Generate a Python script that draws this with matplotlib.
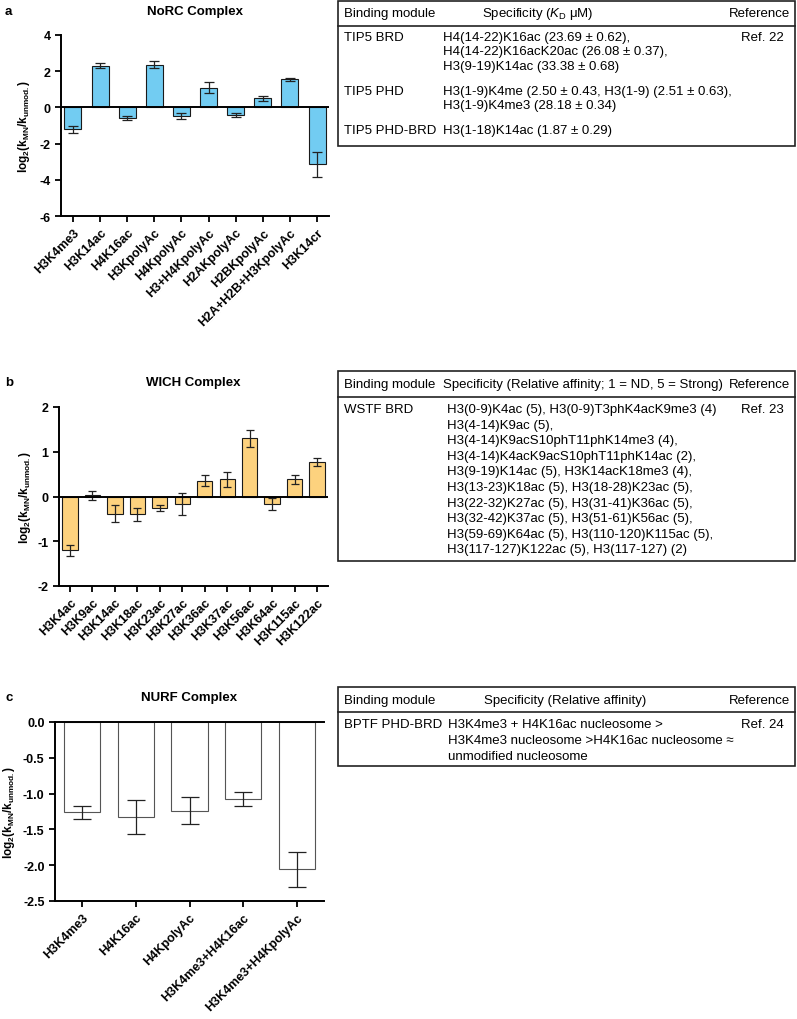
import matplotlib
matplotlib.use('Agg')
import matplotlib.pyplot as plt
from matplotlib.patches import Rectangle

plt.rcParams['font.family'] = ['Liberation Sans', 'DejaVu Sans']
plt.rcParams['mathtext.fontset'] = 'custom'
plt.rcParams['mathtext.rm'] = 'Liberation Sans'
plt.rcParams['mathtext.it'] = 'Liberation Sans:italic'
plt.rcParams['mathtext.bf'] = 'Liberation Sans:bold'

# panel a - NoRC
labels_a = ['H3K4me3', 'H3K14ac', 'H4K16ac', 'H3KpolyAc', 'H4KpolyAc', 'H3+H4KpolyAc',
            'H2AKpolyAc', 'H2BKpolyAc', 'H2A+H2B+H3KpolyAc', 'H3K14cr']
vals_a = [-1.22, 2.3, -0.6, 2.35, -0.48, 1.08, -0.42, 0.5, 1.55, -3.15]
err_a = [0.22, 0.15, 0.12, 0.2, 0.15, 0.3, 0.12, 0.12, 0.1, 0.7]

# panel b - WICH
labels_b = ['H3K4ac', 'H3K9ac', 'H3K14ac', 'H3K18ac', 'H3K23ac', 'H3K27ac', 'H3K36ac',
            'H3K37ac', 'H3K56ac', 'H3K64ac', 'H3K115ac', 'H3K122ac']
vals_b = [-1.2, 0.03, -0.38, -0.4, -0.25, -0.17, 0.35, 0.38, 1.3, -0.17, 0.38, 0.77]
err_b = [0.12, 0.1, 0.2, 0.15, 0.07, 0.25, 0.12, 0.16, 0.19, 0.13, 0.09, 0.08]

# panel c - NURF
labels_c = ['H3K4me3', 'H4K16ac', 'H4KpolyAc', 'H3K4me3+H4K16ac', 'H3K4me3+H4KpolyAc']
vals_c = [-1.26, -1.33, -1.24, -1.08, -2.06]
err_c = [0.09, 0.24, 0.19, 0.1, 0.245]

# tables
head_a = ['Binding module', r'Specificity ($\mathit{K}_{\mathrm{D}}$ μM)', 'Reference']
mod_a = ['TIP5 BRD', 'TIP5 PHD', 'TIP5 PHD-BRD']
spec_a = [['H4(14-22)K16ac (23.69 ± 0.62),', 'H4(14-22)K16acK20ac (26.08 ± 0.37),',
           'H3(9-19)K14ac (33.38 ± 0.68)'],
          ['H3(1-9)K4me (2.50 ± 0.43, H3(1-9) (2.51 ± 0.63),', 'H3(1-9)K4me3 (28.18 ± 0.34)'],
          ['H3(1-18)K14ac (1.87 ± 0.29)']]
ref_a = ['Ref. 22', '', '']

head_b = ['Binding module', 'Specificity (Relative affinity; 1 = ND, 5 = Strong)', 'Reference']
mod_b = ['WSTF BRD']
spec_b = [['H3(0-9)K4ac (5), H3(0-9)T3phK4acK9me3 (4)', 'H3(4-14)K9ac (5),',
           'H3(4-14)K9acS10phT11phK14me3 (4),', 'H3(4-14)K4acK9acS10phT11phK14ac (2),',
           'H3(9-19)K14ac (5), H3K14acK18me3 (4),', 'H3(13-23)K18ac (5), H3(18-28)K23ac (5),',
           'H3(22-32)K27ac (5), H3(31-41)K36ac (5),', 'H3(32-42)K37ac (5), H3(51-61)K56ac (5),',
           'H3(59-69)K64ac (5), H3(110-120)K115ac (5),', 'H3(117-127)K122ac (5), H3(117-127) (2)']]
ref_b = ['Ref. 23']

head_c = ['Binding module', 'Specificity (Relative affinity)', 'Reference']
mod_c = ['BPTF PHD-BRD']
spec_c = [['H3K4me3 + H4K16ac nucleosome >', 'H3K4me3 nucleosome >H4K16ac nucleosome ≈',
           'unmodified nucleosome']]
ref_c = ['Ref. 24']

W, H = 797, 1020
fig = plt.figure(figsize=(W / 100, H / 100), dpi=100)


def rect(l, t, r, b):
    return [l / W, 1 - b / H, (r - l) / W, (b - t) / H]


ylab = r'$\mathbf{log_2(k_{MN}/k_{unmod.})}$'


def bar_panel(pos, labels, vals, errs, color, edge, ylim, yticks, xpad, width, cap, fmt):
    ax = fig.add_axes(rect(*pos))
    x = range(len(vals))
    ax.bar(x, vals, width=width, color=color, edgecolor=edge, linewidth=0.8, zorder=2)
    ax.errorbar(x, vals, yerr=errs, fmt='none', ecolor='#222222', elinewidth=0.9,
                capsize=cap, capthick=0.9, zorder=3)
    ax.set_xlim(-xpad, len(vals) - 1 + xpad)
    ax.set_ylim(*ylim)
    ax.set_yticks(yticks)
    ax.set_yticklabels([fmt.format(v) for v in yticks])
    ax.set_xticks(list(x))
    ax.set_xticklabels(labels, rotation=45, ha='right', rotation_mode='anchor')
    for s in ['top', 'right']:
        ax.spines[s].set_visible(False)
    for s in ['left', 'bottom']:
        ax.spines[s].set_linewidth(1.4)
    ax.tick_params(width=1.3, length=4, labelsize=9)
    for t in ax.get_xticklabels() + ax.get_yticklabels():
        t.set_fontweight('bold')
    ax.set_ylabel(ylab, fontsize=8.5)
    return ax


axa = bar_panel((61, 36, 329, 217), labels_a, vals_a, err_a, '#72CCF2', '#1a1a1a',
                (-6, 4), [-6, -4, -2, 0, 2, 4], 0.44, 0.63, 3.6, '{:g}')
axa.axhline(0, color='black', lw=1.4, zorder=4)
axa.yaxis.set_label_coords(-0.108, 0.5)

axb = bar_panel((59, 408, 328, 587), labels_b, vals_b, err_b, '#FDD27E', '#1a1a1a',
                (-2, 2), [-2, -1, 0, 1, 2], 0.49, 0.68, 2.9, '{:g}')
axb.axhline(0, color='black', lw=1.4, zorder=4)
axb.yaxis.set_label_coords(-0.097, 0.5)

axc = bar_panel((55, 723, 324, 902), labels_c, vals_c, err_c, 'white', '#555555',
                (-2.5, 0), [-2.5, -2.0, -1.5, -1.0, -0.5, 0.0], 0.5, 0.67, 6.8, '{:.1f}')
axc.spines['top'].set_visible(True)
axc.spines['top'].set_linewidth(1.4)
axc.yaxis.set_label_coords(-0.142, 0.5)

# panel letters and titles
for lab, ttl, y, xt in [('a', 'NoRC Complex', 12, 195), ('b', 'WICH Complex', 383, 193),
                        ('c', 'NURF Complex', 698, 189)]:
    fig.text(5 / W, 1 - y / H, lab, fontsize=9.5, fontweight='bold', va='center', ha='left')
    fig.text(xt / W, 1 - y / H, ttl, fontsize=9.5, fontweight='bold', va='center', ha='center')

# tables in pixel space
ov = fig.add_axes([0, 0, 1, 1])
ov.set_xlim(0, W)
ov.set_ylim(H, 0)
ov.axis('off')


def table(box, header_y, line_y, head, spec_center, spec_x, mods, specs, refs, row_y, step):
    l, t, r, b = box
    ov.add_patch(Rectangle((l, t), r - l, b - t, fill=False, lw=1.2, ec='#222222'))
    ov.plot([l, r], [line_y, line_y], color='#222222', lw=1.2)
    fs = 9.5
    ov.text(l + 6, header_y, head[0], fontsize=fs, va='center', ha='left')
    ov.text(spec_center, header_y, head[1], fontsize=fs, va='center', ha='center')
    ov.text(r - 5, header_y, head[2], fontsize=fs, va='center', ha='right')
    for m, sp, rf, y0 in zip(mods, specs, refs, row_y):
        ov.text(l + 6, y0, m, fontsize=fs, va='center', ha='left')
        for k, line in enumerate(sp):
            ov.text(spec_x, y0 + k * step, line, fontsize=fs, va='center', ha='left')
        ov.text(762, y0, rf, fontsize=fs, va='center', ha='center')


table((338, 2, 795, 147), 14, 27, head_a, 538, 443, mod_a, spec_a, ref_a, [38, 92, 131], 14.5)
table((338, 372, 795, 562), 385, 398, head_b, 583, 447, mod_b, spec_b, ref_b, [410], 15.6)
table((338, 688, 795, 767), 701, 713, head_c, 565, 448, mod_c, spec_c, ref_c, [725], 16)

fig.savefig('out.png', dpi=100)
